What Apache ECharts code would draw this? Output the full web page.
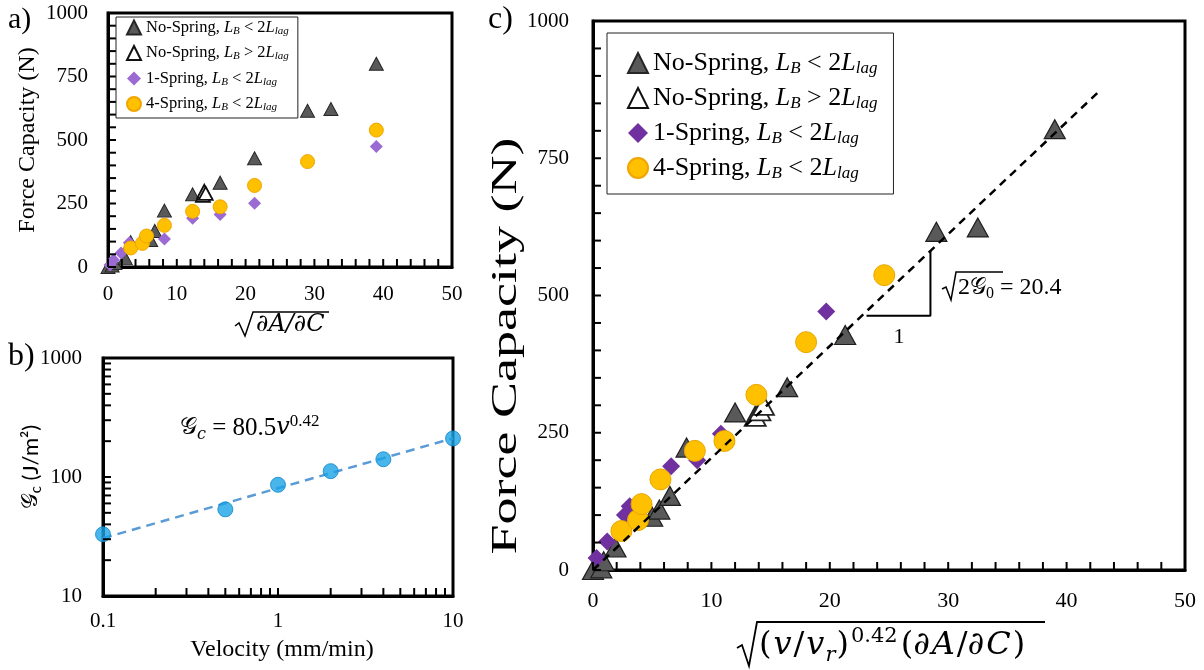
<!DOCTYPE html>
<html>
<head>
<meta charset="utf-8">
<script src="https://cdn.jsdelivr.net/npm/echarts@6/dist/echarts.min.js"></script>
<style>
  html, body { margin: 0; padding: 0; background: #fff; }
  #chart { width: 1204px; height: 670px; }
</style>
</head>
<body>
<div id="chart"></div>
<script>
// ---- Panel a: force capacity against sqrt(dA/dC) ----
const aNoSpringShort = [[0,0],[0.6,6],[1.0,16],[2.5,35],[3.3,98],[6.2,106],[6.8,142],[8.2,222],[12.3,286],[16.3,332],[21.3,428],[29.0,615],[32.4,622],[39.0,800]];
const aNoSpringLong  = [[13.8,282],[14.0,298],[14.2,290]];
const aOneSpring     = [[0.3,8],[0.8,28],[1.9,55],[3.1,95],[8.2,110],[12.3,192],[16.3,207],[21.3,251],[39.0,474]];
const aFourSpring    = [[3.3,75],[5.0,93],[5.6,122],[8.2,164],[12.3,219],[16.3,237],[21.3,321],[29.0,415],[39.0,539]];

// ---- Panel b: critical energy release rate against velocity ----
const velocity = [0.1, 0.5, 1, 2, 4, 10];
const gcValues = [33, 53.5, 86, 112, 141, 211];
const gcFit    = [[0.1, 30.6], [10, 211.7]];
const logTicksX = [0.1,0.2,0.3,0.4,0.5,0.6,0.7,0.8,0.9,1,2,3,4,5,6,7,8,9,10];
const logTicksY = [10,20,30,40,50,60,70,80,90,100,200,300,400,500,600,700,800,900,1000];

// ---- Panel c: force capacity against the rate-scaled parameter ----
const cNoSpringShort = [[0,0],[0.7,3],[0.9,16],[1.9,41],[5.0,97],[5.6,110],[6.5,135],[7.9,223],[12.0,287],[16.4,333],[21.3,428],[29.0,616],[32.5,624],[39.0,803]];
const cNoSpringLong  = [[13.7,280],[14.1,290],[14.4,300]];
const cOneSpring     = [[0.3,22],[1.2,52],[2.7,100],[3.1,116],[6.6,189],[8.8,200],[10.8,248],[19.7,471]];
const cFourSpring    = [[2.4,71],[3.8,91],[4.1,120],[5.7,165],[8.6,217],[11.1,235],[13.8,319],[18.0,415],[24.6,537]];
const cFit           = [[0, 0], [42.8, 873]];
const slopeGuide     = [[23.1, 463], [28.5, 463], [28.5, 582]];

// tick positions shared by panels a and c (every 2 on x, every 50 on y)
const linTicksX = [0,2,4,6,8,10,12,14,16,18,20,22,24,26,28,30,32,34,36,38,40,42,44,46,48,50];
const linTicksY = [0,50,100,150,200,250,300,350,400,450,500,550,600,650,700,750,800,850,900,950,1000];

const SERIF = "'Liberation Serif', 'Times New Roman', serif";
const MATH  = "'DejaVu Serif', 'Liberation Serif', serif";
const SANS  = "Lato, 'Noto Sans', 'DejaVu Sans', sans-serif";

const N1 = 'No-Spring, LB < 2Llag';
const N2 = 'No-Spring, LB > 2Llag';
const N3 = '1-Spring, LB < 2Llag';
const N4 = '4-Spring, LB < 2Llag';
const legendText = {
  [N1]: '{t|No-Spring, }{i|L}{s|B}{t| < 2}{i|L}{s|lag}',
  [N2]: '{t|No-Spring, }{i|L}{s|B}{t| > 2}{i|L}{s|lag}',
  [N3]: '{t|1-Spring, }{i|L}{s|B}{t| < 2}{i|L}{s|lag}',
  [N4]: '{t|4-Spring, }{i|L}{s|B}{t| < 2}{i|L}{s|lag}'
};

function legendRich(size, sub, lh, subLh) {
  return {
    t: { fontFamily: SERIF, fontSize: size, color: '#000', lineHeight: lh },
    i: { fontFamily: SERIF, fontStyle: 'italic', fontSize: size, color: '#000', lineHeight: lh },
    s: { fontFamily: SERIF, fontStyle: 'italic', fontSize: sub, color: '#000', lineHeight: subLh, verticalAlign: 'bottom' }
  };
}

function valueAxis(grid, min, max, interval, labelSize, margin) {
  return {
    type: 'value', gridIndex: grid, min: min, max: max, interval: interval,
    axisLine: { show: true, onZero: false, lineStyle: { color: '#000', width: 3 } },
    axisTick: { show: false },
    splitLine: { show: false },
    axisLabel: { fontFamily: SERIF, fontSize: labelSize, color: '#000', margin: margin,
      formatter: v => String(v) }
  };
}

function logAxis(grid, min, max, margin) {
  return {
    type: 'log', logBase: 10, gridIndex: grid, min: min, max: max,
    axisLine: { show: true, onZero: false, lineStyle: { color: '#000', width: 3 } },
    axisTick: { show: false },
    splitLine: { show: false },
    axisLabel: { fontFamily: SERIF, fontSize: 21, color: '#000', margin: margin,
      formatter: v => String(+Number(v).toPrecision(3)) }
  };
}

function scatter(name, data, gi, symbol, size, color, border, bw, z) {
  return {
    type: 'scatter', name: name, xAxisIndex: gi, yAxisIndex: gi, data: data,
    symbol: symbol, symbolSize: size, z: z,
    itemStyle: { color: color, borderColor: border, borderWidth: bw, opacity: 1 },
    emphasis: { disabled: true }
  };
}

// inward tick marks drawn as thin bars sitting on the axis lines
function tickSeries(gi, points, vertical) {
  return {
    type: 'scatter', xAxisIndex: gi, yAxisIndex: gi, z: 10, silent: true, clip: false,
    data: points, symbol: 'rect',
    symbolSize: vertical ? [2, 8] : [8, 2],
    symbolOffset: vertical ? [0, -4] : [4, 0],
    itemStyle: { color: '#000', opacity: 1 },
    emphasis: { disabled: true }
  };
}

const series = [
  // panel a
  scatter(N1, aNoSpringShort, 0, 'triangle', [14, 13], '#595959', '#262626', 1, 2),
  scatter(N2, aNoSpringLong, 0, 'triangle', [14, 13], '#ffffff', '#111111', 1.8, 3),
  scatter(N3, aOneSpring, 0, 'diamond', [13, 13], '#9b6ad2', '#9b6ad2', 0, 4),
  scatter(N4, aFourSpring, 0, 'circle', 14, '#ffc000', '#f0a500', 1, 5),
  tickSeries(0, linTicksX.map(v => [v, 0]), true),
  tickSeries(0, linTicksY.map(v => [0, v]), false),
  // panel b
  {
    type: 'line', xAxisIndex: 1, yAxisIndex: 1, data: gcFit, symbol: 'none', z: 2,
    lineStyle: { color: '#5b9bd5', width: 2.5, type: [9, 6] }, silent: true
  },
  {
    type: 'scatter', xAxisIndex: 1, yAxisIndex: 1, z: 3,
    data: velocity.map((v, i) => [v, gcValues[i]]),
    symbol: 'circle', symbolSize: 15,
    itemStyle: { color: '#1aa3e6', borderColor: '#0f86c8', borderWidth: 1 }
  },
  tickSeries(1, logTicksX.map(v => [v, 10]), true),
  tickSeries(1, logTicksY.map(v => [0.1, v]), false),
  // panel c
  scatter(N1, cNoSpringShort, 2, 'triangle', [21, 19], '#595959', '#1f1f1f', 1.2, 2),
  scatter(N2, cNoSpringLong, 2, 'triangle', [21, 19], '#ffffff', '#222222', 1.8, 3),
  scatter(N3, cOneSpring, 2, 'diamond', [18, 18], '#7030a0', '#7030a0', 0, 4),
  scatter(N4, cFourSpring, 2, 'circle', 21, '#ffc000', '#e8a600', 1, 5),
  tickSeries(2, linTicksX.map(v => [v, 0]), true),
  tickSeries(2, linTicksY.map(v => [0, v]), false),
  {
    type: 'line', xAxisIndex: 2, yAxisIndex: 2, data: cFit, symbol: 'none', z: 8, silent: true,
    lineStyle: { color: '#000', width: 2.5, type: [8, 6] }
  },
  {
    type: 'line', xAxisIndex: 2, yAxisIndex: 2, data: slopeGuide, symbol: 'none', z: 8, silent: true,
    lineStyle: { color: '#000', width: 2 }
  }
];

const gridStyle = { show: true, borderColor: '#000', borderWidth: 3 };

const option = {
  animation: false,
  backgroundColor: '#fff',
  grid: [
    Object.assign({ left: 108, top: 13, width: 344, height: 254 }, gridStyle),
    Object.assign({ left: 103, top: 358, width: 350, height: 238 }, gridStyle),
    Object.assign({ left: 593, top: 21, width: 592, height: 549 }, gridStyle)
  ],
  xAxis: [
    valueAxis(0, 0, 50, 10, 21, 17),
    logAxis(1, 0.1, 10, 15),
    valueAxis(2, 0, 50, 10, 22, 20)
  ],
  yAxis: [
    valueAxis(0, 0, 1000, 250, 21, 20),
    logAxis(1, 10, 1000, 21),
    valueAxis(2, 0, 1000, 250, 21, 24)
  ],
  legend: [
    {
      orient: 'vertical', left: 116, top: 17, selectedMode: false, z: 12,
      data: [N1, N2, N3, N4],
      itemWidth: 14, itemHeight: 14, itemGap: 8,
      padding: [2, 9, 5, 10],
      backgroundColor: '#fff', borderColor: '#222', borderWidth: 1,
      formatter: n => legendText[n],
      textStyle: { rich: legendRich(16.5, 11, 18, 8) }
    },
    {
      orient: 'vertical', left: 607, top: 33, selectedMode: false, z: 12,
      data: [N1, N2, { name: N3, itemStyle: { color: '#7030a0', borderWidth: 0 } }, N4],
      itemWidth: 20, itemHeight: 20, itemGap: 8,
      padding: [17, 16, 12, 20],
      backgroundColor: '#fff', borderColor: '#222', borderWidth: 1,
      formatter: n => legendText[n],
      textStyle: { rich: legendRich(26, 17, 28, 11) }
    }
  ],
  series: series,
  graphic: [
    // panel letters
    { type: 'text', x: 8, y: 20, z: 20, style: { text: 'a)', fontFamily: SERIF, fontSize: 30, fill: '#000', verticalAlign: 'middle' } },
    { type: 'text', x: 8, y: 357, z: 20, style: { text: 'b)', fontFamily: SERIF, fontSize: 32, fill: '#000', verticalAlign: 'middle' } },
    { type: 'text', x: 488, y: 20, z: 20, style: { text: 'c)', fontFamily: SERIF, fontSize: 32, fill: '#000', verticalAlign: 'middle' } },

    // panel a axis titles
    { type: 'text', x: 28, y: 140, rotation: Math.PI / 2, z: 20,
      style: { text: 'Force Capacity (N)', fontFamily: SERIF, fontSize: 24, fill: '#000', align: 'center', verticalAlign: 'middle' } },
    { type: 'polyline', z: 20, shape: { points: [[235, 326], [239, 323], [245, 336], [253, 312], [329, 312]] },
      style: { stroke: '#000', lineWidth: 1.5, fill: null } },
    { type: 'text', x: 256, y: 325, z: 20,
      style: { text: '∂A/∂C', fontFamily: MATH, fontStyle: 'italic', fontSize: 24, fill: '#000', verticalAlign: 'middle' } },

    // panel b axis titles and fit equation
    { type: 'text', x: 31, y: 467, rotation: Math.PI / 2, z: 20,
      style: { text: '{g|𝒢}{c|c}{t| (J/m²)}', align: 'center', verticalAlign: 'middle',
        rich: {
          g: { fontFamily: MATH, fontSize: 22, fill: '#000' },
          c: { fontFamily: SANS, fontSize: 15, fill: '#000', verticalAlign: 'bottom', lineHeight: 12 },
          t: { fontFamily: SANS, fontSize: 22, fill: '#000', lineHeight: 26 }
        } } },
    { type: 'text', x: 282, y: 650, z: 20,
      style: { text: 'Velocity (mm/min)', fontFamily: SERIF, fontSize: 24, fill: '#000', align: 'center', verticalAlign: 'middle' } },
    { type: 'text', x: 180, y: 428, z: 20,
      style: { text: '{g|𝒢}{c|c}{t| = 80.5}{i|v}{p|0.42}', verticalAlign: 'middle',
        rich: {
          g: { fontFamily: MATH, fontSize: 24, fill: '#000', lineHeight: 30 },
          c: { fontFamily: MATH, fontStyle: 'italic', fontSize: 16, fill: '#000', verticalAlign: 'bottom', lineHeight: 14 },
          t: { fontFamily: SERIF, fontSize: 25, fill: '#000', lineHeight: 30 },
          i: { fontFamily: MATH, fontStyle: 'italic', fontSize: 24, fill: '#000', lineHeight: 30 },
          p: { fontFamily: SERIF, fontSize: 17, fill: '#000', verticalAlign: 'top', lineHeight: 14 }
        } } },

    // panel c axis titles
    { type: 'text', x: 507, y: 346, rotation: Math.PI / 2, scaleX: 1.5, z: 20,
      style: { text: 'Force Capacity (N)', fontFamily: SERIF, fontSize: 36, fill: '#000', align: 'center', verticalAlign: 'middle' } },
    { type: 'polyline', z: 20, shape: { points: [[737, 648], [742, 645], [749, 666], [757, 622], [1045, 622]] },
      style: { stroke: '#000', lineWidth: 1.8, fill: null } },
    { type: 'text', x: 758, y: 646, z: 20,
      style: { text: '{p|(}{i|v}{p|/}{i|v}{s|r}{p|)}{u|0.42}{p|(∂}{i|A}{p|/∂}{i|C}{p|)}', verticalAlign: 'middle',
        rich: {
          p: { fontFamily: MATH, fontSize: 32, fill: '#000', lineHeight: 40, padding: [0, 1, 0, 1] },
          i: { fontFamily: MATH, fontStyle: 'italic', fontSize: 32, fill: '#000', lineHeight: 40, padding: [0, 1, 0, 1] },
          s: { fontFamily: MATH, fontStyle: 'italic', fontSize: 21, fill: '#000', verticalAlign: 'bottom', lineHeight: 18 },
          u: { fontFamily: MATH, fontSize: 21, fill: '#000', verticalAlign: 'top', lineHeight: 18, padding: [0, 2, 0, 1] }
        } } },

    // slope annotation
    { type: 'text', x: 899, y: 337, z: 20,
      style: { text: '1', fontFamily: SERIF, fontSize: 22, fill: '#000', align: 'center', verticalAlign: 'middle' } },
    { type: 'polyline', z: 20, shape: { points: [[942, 289], [946, 287], [951, 300], [956, 272], [1003, 272]] },
      style: { stroke: '#000', lineWidth: 1.5, fill: null } },
    { type: 'text', x: 958, y: 288, z: 20,
      style: { text: '{t|2}{g|𝒢}{s|0}{t| = 20.4}', verticalAlign: 'middle',
        rich: {
          t: { fontFamily: SERIF, fontSize: 24, fill: '#000', lineHeight: 28 },
          g: { fontFamily: MATH, fontSize: 23, fill: '#000', lineHeight: 28 },
          s: { fontFamily: SERIF, fontSize: 16, fill: '#000', verticalAlign: 'bottom', lineHeight: 14 }
        } } }
  ]
};

const chart = echarts.init(document.getElementById('chart'), null, { renderer: 'canvas' });
chart.setOption(option);
</script>
</body>
</html>
